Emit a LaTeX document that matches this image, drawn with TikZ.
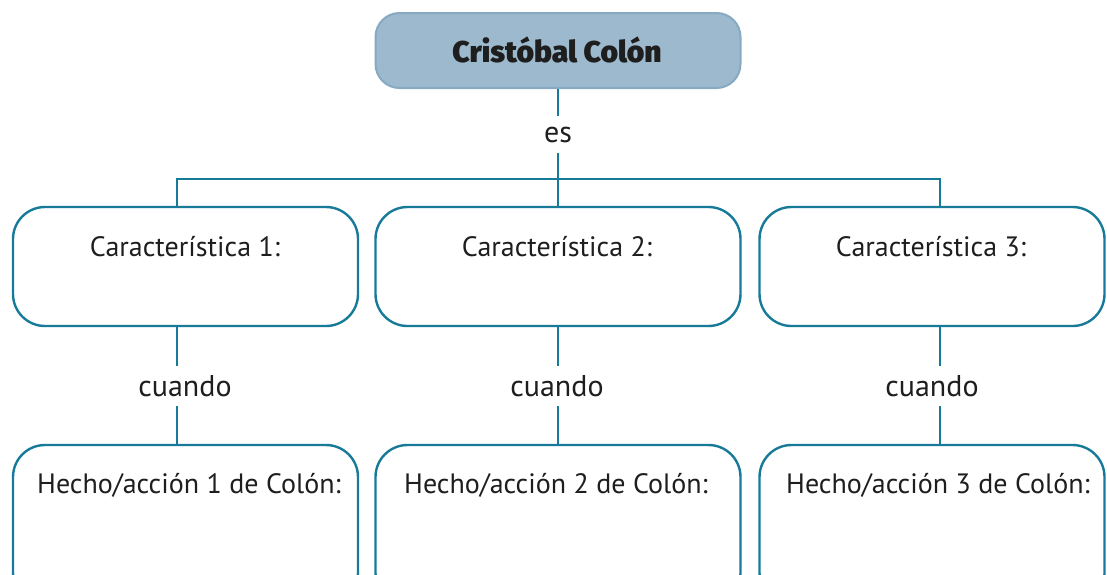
\documentclass[tikz,border=0pt]{standalone}
\usepackage{fontspec}
\setmainfont{PT Sans}
\newfontfamily\heavy{Fira Sans}[UprightFont=* Black]
\definecolor{teal1}{RGB}{22,122,152}
\definecolor{topfill}{RGB}{157,185,205}
\definecolor{topdraw}{RGB}{135,169,193}
\definecolor{ink}{RGB}{30,30,30}
\begin{document}
\begin{tikzpicture}[x=1pt,y=-1pt,
  topbox/.style={draw=topdraw,fill=topfill,line width=2pt,rounded corners=24pt,minimum width=365pt,minimum height=75pt,inner sep=0pt},
  cbox/.style={draw=teal1,line width=2.4pt,rounded corners=32pt,minimum width=345pt,minimum height=119pt,inner sep=0pt},
  hbox/.style={draw=teal1,line width=2.4pt,rounded corners=32pt,minimum width=345pt,minimum height=160pt,inner sep=0pt},
  conn/.style={draw=teal1,line width=2.4pt},
  txt/.style={font=\fontsize{28}{32}\selectfont,text=ink,anchor=base,inner sep=0pt},
  lbl/.style={font=\fontsize{30}{34}\selectfont,text=ink,inner sep=0pt}]
\useasboundingbox (0,0) rectangle (1107,574);
\clip (0,0) rectangle (1107,574);
% top
\node[topbox] (top) at (558,50.5) {};
\node[anchor=base,inner sep=0pt,font=\heavy\fontsize{30}{34}\selectfont,text=ink] (title) at (557,62) {Cristóbal Colón};
% es
\node[lbl,minimum height=37pt] (es) at (558,134.5) {es};
% characteristic boxes
\node[cbox] (c1) at (185.5,266.5) {};
\node[cbox,minimum width=365pt] (c2) at (558,266.5) {};
\node[cbox] (c3) at (932,266.5) {};
\node[txt] (t1) at (185,256) {Característica 1:};
\node[txt] (t2) at (557,256) {Característica 2:};
\node[txt] (t3) at (931,256) {Característica 3:};
% cuando
\node[lbl,minimum height=40pt] (w1) at (185,386) {cuando};
\node[lbl,minimum height=40pt] (w2) at (557,386) {cuando};
\node[lbl,minimum height=40pt] (w3) at (932,386) {cuando};
% hecho boxes
\node[hbox] (h1) at (185.5,525) {};
\node[hbox,minimum width=365pt] (h2) at (558,525) {};
\node[hbox] (h3) at (932,525) {};
\node[txt] (u1) at (189,493) {Hecho/acción 1 de Colón:};
\node[txt] (u2) at (556,493) {Hecho/acción 2 de Colón:};
\node[txt] (u3) at (938,493) {Hecho/acción 3 de Colón:};
% connectors
\coordinate (hub) at (558,179);
\coordinate (L1) at (177,0);
\coordinate (L2) at (558,0);
\coordinate (L3) at (940,0);
\draw[conn] (top.south) -- (es.north -| L2);
\draw[conn] (es.south -| L2) -- (c2.north);
\draw[conn] (c1.north -| L1) |- (hub) -| (c3.north -| L3);
\draw[conn] (c1.south -| L1) -- (w1.north -| L1);
\draw[conn] (w1.south -| L1) -- (h1.north -| L1);
\draw[conn] (c2.south) -- (w2.north -| L2);
\draw[conn] (w2.south -| L2) -- (h2.north);
\draw[conn] (c3.south -| L3) -- (w3.north -| L3);
\draw[conn] (w3.south -| L3) -- (h3.north -| L3);
\end{tikzpicture}
\end{document}
